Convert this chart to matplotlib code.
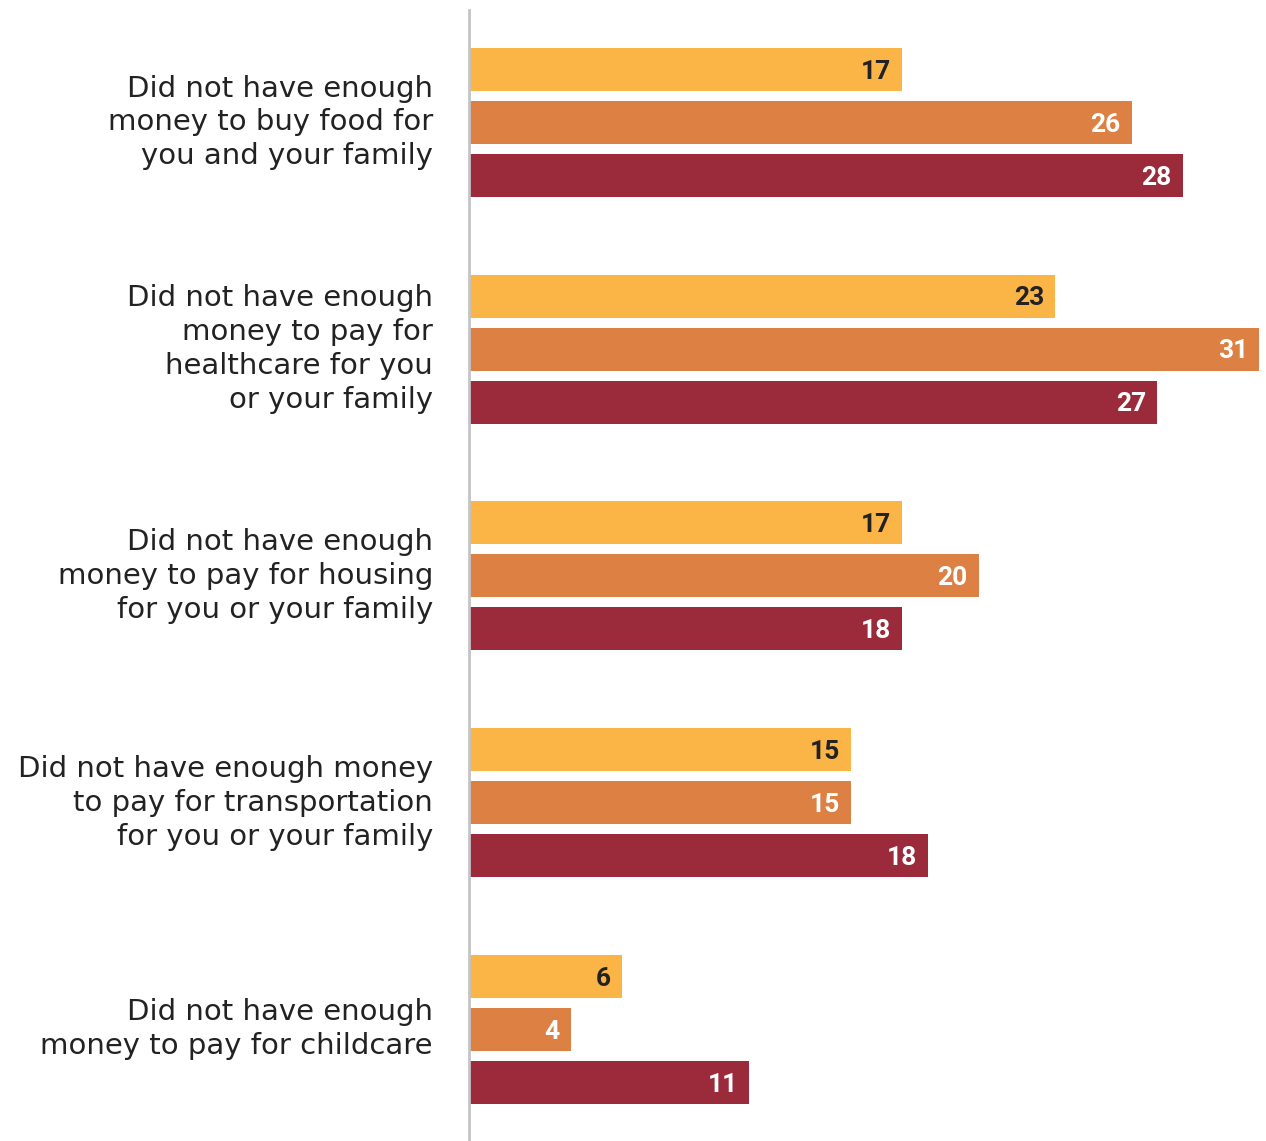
import matplotlib.pyplot as plt
import numpy as np

categories = [
    "Did not have enough\nmoney to buy food for\nyou and your family",
    "Did not have enough\nmoney to pay for\nhealthcare for you\nor your family",
    "Did not have enough\nmoney to pay for housing\nfor you or your family",
    "Did not have enough money\nto pay for transportation\nfor you or your family",
    "Did not have enough\nmoney to pay for childcare",
]
# bar lengths as drawn
series_a = [17, 23, 17, 15, 6]
series_b = [26, 31, 20, 15, 4]
series_c = [28, 27, 17, 18, 11]
# printed labels (housing bar of series c is drawn at ~17 but labelled 18)
labels_a = ["17", "23", "17", "15", "6"]
labels_b = ["26", "31", "20", "15", "4"]
labels_c = ["28", "27", "18", "18", "11"]

colors = ["#FBB446", "#DD8043", "#9B2A3B"]
text_colors = ["#222222", "white", "white"]

fig = plt.figure(figsize=(12.66, 11.41), dpi=100)
ax = fig.add_axes([469 / 1266, 0, 790 / 1266, 1 - 10 / 1141])

y = np.arange(len(categories))
offset = 53 / 226.75
height = 43 / 226.75

for k, (vals, labs) in enumerate([(series_a, labels_a), (series_b, labels_b),
                                  (series_c, labels_c)]):
    pos = y + (k - 1) * offset
    ax.barh(pos, vals, height=height, color=colors[k])
    for p, v, lab in zip(pos, vals, labs):
        ax.annotate(lab, (v, p), xytext=(-8, -1.5), textcoords="offset points",
                    ha="right", va="center", fontsize=19, fontweight="bold",
                    color=text_colors[k], family="Roboto")

ax.set_xlim(0, 31)
ax.set_ylim(4.492, -0.496)
ax.set_xticks([])
ax.set_yticks([])
for s in ["top", "right", "bottom"]:
    ax.spines[s].set_visible(False)
ax.spines["left"].set_color("#C4C4C8")
ax.spines["left"].set_linewidth(2)

for i, cat in enumerate(categories):
    ax.annotate(cat, (0, i), xytext=(-26, 0), textcoords="offset points",
                ha="right", va="center", fontsize=21, color="#222222",
                family="DejaVu Sans", linespacing=1.27)

fig.savefig("out.png", dpi=100)
